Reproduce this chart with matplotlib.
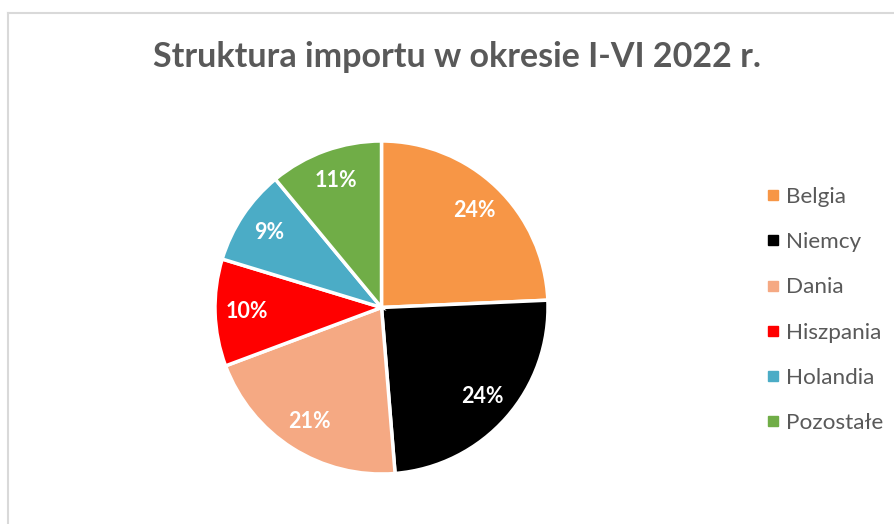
import matplotlib
matplotlib.use("Agg")
import matplotlib.pyplot as plt
from matplotlib.lines import Line2D

# data
countries = ['Belgia', 'Niemcy', 'Dania', 'Hiszpania', 'Holandia', 'Pozostałe']
shares = [24.3, 24.4, 20.6, 10.4, 9.3, 11.0]
colors = ['#F79646', '#000000', '#F5A983', '#FF0000', '#4BACC6', '#70AD47']
title = 'Struktura importu w okresie I-VI 2022 r.'

W, H = 894, 524
fig = plt.figure(figsize=(W / 100, H / 100), dpi=100)
fig.patch.set_facecolor('white')

# chart area border (only top and left visible in the crop)
fig.add_artist(Line2D([7.5 / W, 1.0], [1 - 12.5 / H, 1 - 12.5 / H], color='#D9D9D9', lw=1.5))
fig.add_artist(Line2D([7.5 / W, 7.5 / W], [0.0, 1 - 12.5 / H], color='#D9D9D9', lw=1.5))

# title
fig.text(457 / W, 1 - 67 / H, title, ha='center', va='baseline',
         fontsize=24.5, fontweight='bold', color='#595959', family='Lato')

# pie
cx, cy, r = 381.5, 307.5, 166.5
ax = fig.add_axes([(cx - r) / W, (H - cy - r) / H, 2 * r / W, 2 * r / H])
wedges, texts, autotexts = ax.pie(
    shares, colors=colors, startangle=90, counterclock=False,
    autopct='%.0f%%', pctdistance=0.81,
    wedgeprops=dict(edgecolor='white', linewidth=2.5),
    textprops=dict(color='white', fontsize=15.5, fontweight='bold', family='Lato'))
ax.set_xlim(-1, 1)
ax.set_ylim(-1, 1)
ax.set_aspect('equal')
for w in wedges:
    w.set_clip_on(False)

# legend
handles = [Line2D([], [], marker='s', linestyle='none', markersize=6.5,
                  markerfacecolor=c, markeredgecolor=c) for c in colors]
leg = fig.legend(handles, countries, loc='upper left',
                 bbox_to_anchor=(767 / W, 1 - 187 / H),
                 frameon=False, handlelength=0.52, handletextpad=0.33,
                 labelspacing=1.12, borderpad=0, borderaxespad=0,
                 prop=dict(family='Lato', size=16.2))
for t in leg.get_texts():
    t.set_color('#595959')

fig.savefig('out.png', dpi=100, facecolor='white')
